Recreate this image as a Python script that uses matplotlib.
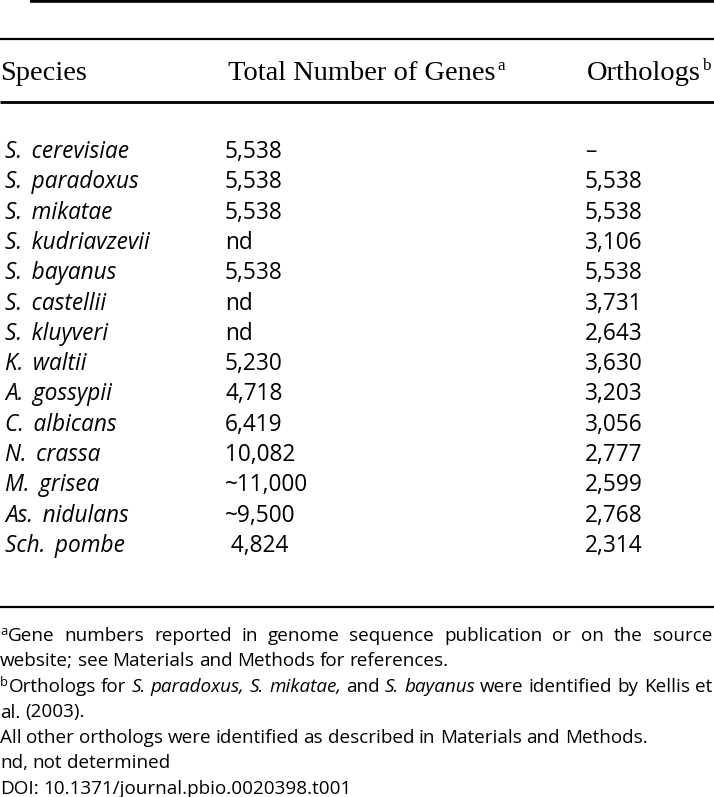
import matplotlib
matplotlib.use("Agg")
import matplotlib.pyplot as plt

# table contents
species = ["S. cerevisiae", "S. paradoxus", "S. mikatae", "S. kudriavzevii",
           "S. bayanus", "S. castellii", "S. kluyveri", "K. waltii",
           "A. gossypii", "C. albicans", "N. crassa", "M. grisea",
           "As. nidulans", "Sch. pombe"]
total_genes = ["5,538", "5,538", "5,538", "nd", "5,538", "nd", "nd",
               "5,230", "4,718", "6,419", "10,082", "~11,000", "~9,500",
               " 4,824"]
orthologs = ["\u2013", "5,538", "5,538", "3,106", "5,538", "3,731", "2,643",
             "3,630", "3,203", "3,056", "2,777", "2,599", "2,768", "2,314"]
headers = [("Species", ""), ("Total Number of Genes", "a"), ("Orthologs", "b")]

# footnotes: (superscript, text with _italic_ spans, justify?)
footnotes = [
    ("a", "Gene numbers reported in genome sequence publication or on the source", True),
    ("", "website; see Materials and Methods for references.", False),
    ("b", "Orthologs for _S. paradoxus, S. mikatae,_ and _S. bayanus_ were identified by Kellis et", True),
    ("", "al. (2003).", False),
    ("", "All other orthologs were identified as described in Materials and Methods.", False),
    ("", "nd, not determined", False),
    ("", "DOI: 10.1371/journal.pbio.0020398.t001", False),
]

W, H = 714, 797
fig = plt.figure(figsize=(W / 100, H / 100), dpi=100)
ax = fig.add_axes([0, 0, 1, 1])
ax.set_xlim(0, W)
ax.set_ylim(H, 0)
ax.axis("off")

serif = "Liberation Serif"
sans = "Open Sans"
body_fs = 16.3
head_fs = 20.5
note_fs = 13.6

# rules
ax.plot([30, W], [1, 1], color="black", lw=2.6, solid_capstyle="butt")
ax.plot([0, W], [38.5, 38.5], color="black", lw=1.6, solid_capstyle="butt")
ax.plot([0, W], [102, 102], color="black", lw=2.0, solid_capstyle="butt")
ax.plot([0, W], [607, 607], color="black", lw=1.6, solid_capstyle="butt")

renderer = fig.canvas.get_renderer()


def width_of(t):
    return t.get_window_extent(renderer=renderer).width


# header
col_x = [0, 228, 587]
head_y = 80
for x, (txt, sup) in zip(col_x, headers):
    t = ax.text(x, head_y, txt, fontsize=head_fs, family=serif, va="baseline")
    if sup:
        ax.text(x + width_of(t) + 1.5, head_y - 10.5, sup, fontsize=head_fs * 0.6,
                family=serif, va="baseline")

# body rows
row_y0 = 158
row_dy = 30.3
data_x = [5, 225, 585]
for i, (sp, tg, orth) in enumerate(zip(species, total_genes, orthologs)):
    y = row_y0 + i * row_dy
    ax.text(data_x[0], y, sp.replace(". ", ".\u2009 "), fontsize=body_fs, family=sans,
            style="italic", va="baseline")
    ax.text(data_x[1], y, tg, fontsize=body_fs, family=sans, va="baseline")
    ax.text(data_x[2], y, orth, fontsize=body_fs, family=sans, va="baseline")

# footnotes
note_y0 = 641
note_dy = 25.5
right = 712
space = 4.6
for j, (sup, line, justify) in enumerate(footnotes):
    y = note_y0 + j * note_dy
    x = 0
    if sup:
        s = ax.text(0, y - 6, sup, fontsize=note_fs * 0.68, family=sans, va="baseline")
        x = width_of(s) + 0.5
    arts = []
    italic = False
    for w in line.split(" "):
        if w.startswith("_"):
            italic = True
        t = ax.text(0, y, w.strip("_"), fontsize=note_fs, family=sans,
                    style="italic" if italic else "normal", va="baseline")
        arts.append(t)
        if w.endswith("_"):
            italic = False
    widths = [width_of(t) for t in arts]
    gap = space
    if justify and len(arts) > 1:
        gap = (right - x - sum(widths)) / (len(arts) - 1)
    for t, w in zip(arts, widths):
        t.set_x(x)
        x += w + gap

fig.savefig("out.png", dpi=100)
